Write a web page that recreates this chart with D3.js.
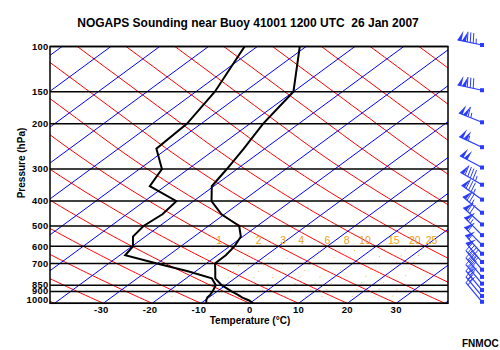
<!DOCTYPE html>
<html>
<head>
<meta charset="utf-8">
<script src="https://cdn.jsdelivr.net/npm/d3@7"></script>
<style>
  body { margin: 0; background: #fff; }
  svg { font-family: "Liberation Sans", Arial, sans-serif; }
</style>
</head>
<body>
<div id="chart"></div>
<script>
const title = 'NOGAPS Sounding near Buoy 41001 1200 UTC  26 Jan 2007'
const pressureTicks = [100, 150, 200, 300, 400, 500, 600, 700, 850, 900, 1000]
const tempTicks = [-30, -20, -10, 0, 10, 20, 30]
const mixingRatios = [1, 2, 3, 4, 6, 8, 10, 15, 20, 25]

// sounding levels (hPa), temperature and dewpoint (°C)
const levels = [1000, 975, 950, 925, 900, 850, 800, 750, 700, 650, 600, 550, 500, 450, 400, 350, 300, 250, 200, 150, 100]
const temperature = [0.7, -0.9, -3.1, -4.9, -6.9, -10.8, -14.0, -16.0, -18.2, -18.3, -19.0, -20.4, -23.7, -30.6, -36.3, -40.4, -42.1, -44.3, -47.3, -50.0, -61.3]
const dewpoint = [-8.9, -9.7, -10.3, -10.5, -10.9, -12.0, -14.7, -21.6, -30.1, -38.9, -39.8, -42.5, -43.3, -42.7, -43.5, -53.1, -55.4, -62.2, -62.9, -66.1, -72.6]

// winds: direction (deg) and speed (kt)
const windLevels = [100, 150, 200, 250, 300, 350, 400, 450, 500, 550, 600, 650, 700, 750, 800, 850, 900, 950, 1000]
const windDir = [282, 282, 292, 295, 298, 300, 305, 310, 312, 315, 315, 318, 320, 320, 320, 320, 320, 320, 320]
const windSpeed = [135, 130, 115, 105, 100, 95, 85, 75, 70, 65, 60, 55, 50, 45, 40, 35, 30, 25, 20]

const width = 500, height = 350
const plot = { left: 50, right: 448, top: 46.5, bottom: 303.3 }
const skew = 1.36

const svg = d3.select('#chart').append('svg')
  .attr('width', width).attr('height', height)

const y = d3.scaleLog().domain([1000, 100]).range([plot.bottom, plot.top])
const x = d3.scaleLinear().domain([-40, 40]).range([54.5, 445])
const px = (t, p) => x(t) + skew * (plot.bottom - y(p))

svg.append('defs').append('clipPath').attr('id', 'clip')
  .append('rect').attr('x', plot.left).attr('y', plot.top)
  .attr('width', plot.right - plot.left).attr('height', plot.bottom - plot.top)

const g = svg.append('g').attr('clip-path', 'url(#clip)')
const line = d3.line().x(d => d[0]).y(d => d[1])

// dry adiabats (standard-atmosphere heights, 9.76 K/km), every 10 deg at 1000 hPa
const zStd = p => p >= 226.32
  ? 44330.8 * (1 - Math.pow(p / 1013.25, 0.190263))
  : 11000 + 6341.6 * Math.log(226.32 / p)
const pSteps = d3.range(1000, 99, -10)
for (let t0 = -50; t0 <= 150; t0 += 10) {
  const pts = pSteps.map(p => [px(t0 - 0.009763 * (zStd(p) - zStd(1000)), p), y(p)])
  g.append('path').attr('d', line(pts)).attr('fill', 'none').attr('stroke', '#ff0000').attr('stroke-width', 1)
}

// isotherms
for (let t = -120; t <= 40; t += 10) {
  g.append('line')
    .attr('x1', px(t, 1000)).attr('y1', y(1000))
    .attr('x2', px(t, 100)).attr('y2', y(100))
    .attr('stroke', '#0000ff').attr('stroke-width', 1)
}

// mixing ratio lines
const tdFromW = (w, p) => {
  const e = w * p / (622 + w)
  const l = Math.log(e / 6.112)
  return 243.5 * l / (17.67 - l)
}
const mrP = d3.range(1000, 599, -10)
mixingRatios.forEach(w => {
  g.append('path').attr('d', line(mrP.map(p => [px(tdFromW(w, p), p), y(p)])))
    .attr('fill', 'none').attr('stroke', '#f0a020').attr('stroke-width', 1)
    .attr('stroke-dasharray', '1,7')
  svg.append('text').attr('x', px(tdFromW(w, 600), 600) + 1.5).attr('y', y(600) - 2.5)
    .attr('fill', '#eea012').style('font-size', '10.5px').text(w)
})

// pressure lines
pressureTicks.forEach(p => {
  svg.append('line').attr('x1', plot.left).attr('x2', plot.right)
    .attr('y1', y(p)).attr('y2', y(p)).attr('stroke', '#000').attr('stroke-width', 1.5)
})
svg.append('rect').attr('x', plot.left).attr('y', plot.top)
  .attr('width', plot.right - plot.left).attr('height', plot.bottom - plot.top)
  .attr('fill', 'none').attr('stroke', '#000').attr('stroke-width', 1.5)

// profiles
const profile = vals => line(levels.map((p, i) => [px(vals[i], p), y(p)]))
g.append('path').attr('d', profile(temperature)).attr('fill', 'none').attr('stroke', '#000').attr('stroke-width', 2)
g.append('path').attr('d', profile(dewpoint)).attr('fill', 'none').attr('stroke', '#000').attr('stroke-width', 2)

// axis labels
const labelShift = { 850: -0.8, 900: -0.3, 1000: -3.6 }
pressureTicks.forEach(p => {
  svg.append('text').attr('x', 48.5).attr('y', y(p) + 3.2 + (labelShift[p] || 0)).attr('text-anchor', 'end')
    .style('font-size', '9.3px').style('font-weight', 'bold').style('letter-spacing', '0.3px').text(p)
})
tempTicks.forEach(t => {
  svg.append('text').attr('x', x(t) - (t < 0 ? 2 : 0)).attr('y', 312.7).attr('text-anchor', 'middle')
    .style('font-size', '9.5px').style('font-weight', 'bold').style('letter-spacing', '0.3px').text(t)
})

svg.append('text').attr('x', 248).attr('y', 27).attr('text-anchor', 'middle')
  .style('font-size', '12px').style('font-weight', 'bold').style('white-space', 'pre').text(title)
svg.append('text').attr('x', 250).attr('y', 324).attr('text-anchor', 'middle')
  .style('font-size', '10px').style('font-weight', 'bold').text('Temperature (°C)')
svg.append('text').attr('transform', `translate(25,163) rotate(-90)`).attr('text-anchor', 'middle')
  .style('font-size', '10px').style('font-weight', 'bold').text('Pressure (hPa)')
svg.append('text').attr('x', 462).attr('y', 347)
  .style('font-size', '10px').style('font-weight', 'bold').text('FNMOC')

// wind barbs
const blue = '#2a3cff'
const wg = svg.append('g')
function barb(cx, cy, dir, spd) {
  const L = 25, bl = 10
  const r = dir * Math.PI / 180
  const ux = Math.sin(r), uy = -Math.cos(r)
  const nx = -uy, ny = ux
  const P = d => [cx + ux * d, cy + uy * d]
  wg.append('rect').attr('x', cx - 2).attr('y', cy - 2).attr('width', 4).attr('height', 4).attr('fill', blue)
  wg.append('line').attr('x1', cx).attr('y1', cy).attr('x2', P(L)[0]).attr('y2', P(L)[1])
    .attr('stroke', blue).attr('stroke-width', 1.2)
  let s = Math.round(spd / 5) * 5, d = L
  while (s >= 50) {
    const a = P(d), b = P(d - 4)
    wg.append('path').attr('d', `M${a[0]},${a[1]}L${b[0]},${b[1]}L${b[0] + nx * bl},${b[1] + ny * bl}Z`).attr('fill', blue)
    d -= 4.5; s -= 50
  }
  if (d < L) d -= 1
  while (s >= 10) {
    const a = P(d)
    wg.append('line').attr('x1', a[0]).attr('y1', a[1]).attr('x2', a[0] + nx * bl + ux * 1.5).attr('y2', a[1] + ny * bl + uy * 1.5)
      .attr('stroke', blue).attr('stroke-width', 1)
    d -= 3; s -= 10
  }
  if (s >= 5) {
    const a = P(d)
    wg.append('line').attr('x1', a[0]).attr('y1', a[1]).attr('x2', a[0] + nx * bl / 2 + ux).attr('y2', a[1] + ny * bl / 2 + uy)
      .attr('stroke', blue).attr('stroke-width', 1)
  }
}
windLevels.forEach((p, i) => barb(482, y(p) - 1.5, windDir[i], windSpeed[i]))
</script>
</body>
</html>
